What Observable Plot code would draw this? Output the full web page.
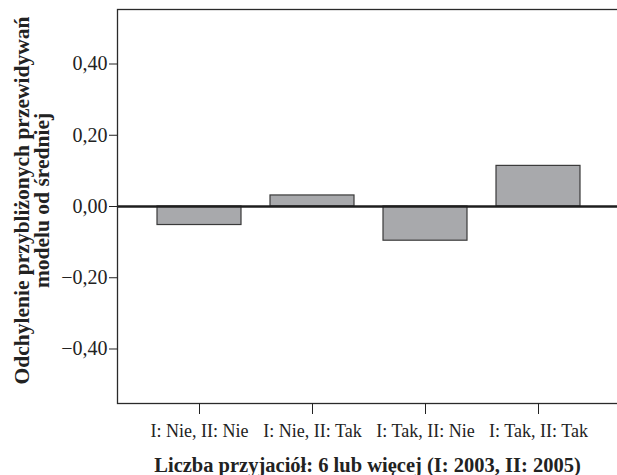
<!DOCTYPE html>
<html>
<head>
<meta charset="utf-8">
<script src="https://cdn.jsdelivr.net/npm/d3@7"></script>
<script src="https://cdn.jsdelivr.net/npm/@observablehq/plot@0.6"></script>
<style>
  html, body { margin: 0; padding: 0; background: #fff; }
  svg { display: block; }
</style>
</head>
<body>
<div id="chart"></div>
<script>
const categories = ["I: Nie, II: Nie", "I: Nie, II: Tak", "I: Tak, II: Nie", "I: Tak, II: Tak"];
const values = [-0.052, 0.031, -0.096, 0.114];
const yTicks = [0.4, 0.2, 0, -0.2, -0.4];
const yTickLabels = ["0,40", "0,20", "0,00", "\u22120,20", "\u22120,40"];
const yLabel = "Odchylenie przybliżonych przewidywań\nmodelu od średniej";
const xLabel = "Liczba przyjaciół: 6 lub więcej (I: 2003, II: 2005)";

const data = categories.map((c, i) => ({category: c, value: values[i]}));
const labelFor = new Map(yTicks.map((t, i) => [t, yTickLabels[i]]));

const chart = Plot.plot({
  width: 617,
  height: 475,
  marginLeft: 117,
  marginRight: 0,
  marginTop: 9,
  marginBottom: 72,
  style: {fontFamily: "'Liberation Serif', 'Times New Roman', serif", color: "#222", background: "#fff"},
  x: {domain: categories, range: [117, 620], paddingInner: 0.253, paddingOuter: 0.35, align: 0.5},
  y: {domain: [-0.553, 0.553]},
  marks: [
    Plot.barY(data, {x: "category", y: "value", fill: "#a8a9ac", stroke: "#3a3a3a", strokeWidth: 1.2}),
    Plot.ruleY([0], {stroke: "#1e1e1e", strokeWidth: 2.4}),
    Plot.frame({stroke: "#2a2a2a", strokeWidth: 1.3, insetRight: -10}),
    Plot.axisY({ticks: yTicks, tickFormat: d => labelFor.get(d), tickSize: 8, tickPadding: 2, fontSize: 20, label: null, stroke: "#222"}),
    Plot.axisX({tickSize: 11, tickPadding: 10, fontSize: 18, label: null, stroke: "#222"}),
    Plot.text([yLabel], {frameAnchor: "left", textAnchor: "middle", lineAnchor: "middle", dx: -85, dy: -6, rotate: -90, fontSize: 21.5, fontWeight: "bold", lineHeight: 0.95, fill: "#222"}),
    Plot.text([xLabel], {frameAnchor: "bottom", textAnchor: "middle", lineAnchor: "middle", dy: 62, fontSize: 20.5, fontWeight: "bold", fill: "#222"})
  ]
});
document.getElementById("chart").appendChild(chart);
</script>
</body>
</html>
